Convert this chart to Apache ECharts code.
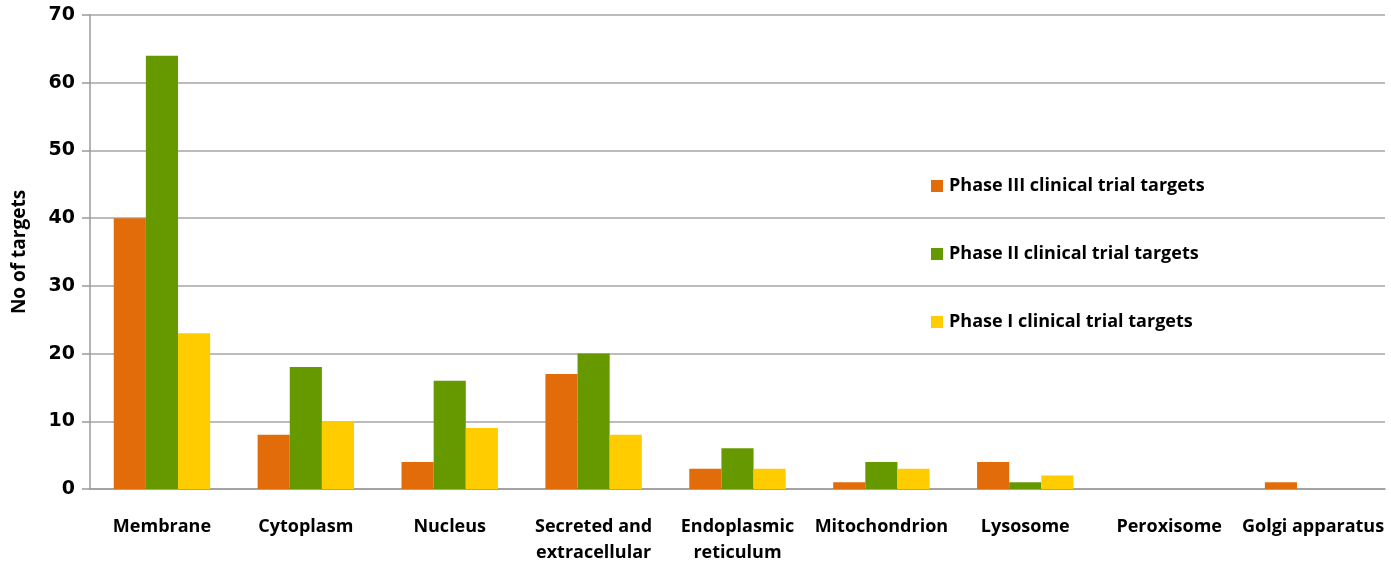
<!DOCTYPE html>
<html>
<head>
<meta charset="utf-8">
<script src="https://cdn.jsdelivr.net/npm/echarts@6/dist/echarts.min.js"></script>
<style>
  html, body { margin: 0; padding: 0; background: #fff; }
  #chart { width: 1391px; height: 565px; }
</style>
</head>
<body>
<div id="chart"></div>
<script>
// Subcellular location of clinical trial targets
const categories = ['Membrane', 'Cytoplasm', 'Nucleus', 'Secreted and\nextracellular', 'Endoplasmic\nreticulum', 'Mitochondrion', 'Lysosome', 'Peroxisome', 'Golgi apparatus'];
const phase3 = [40, 8, 4, 17, 3, 1, 4, 0, 1];
const phase2 = [64, 18, 16, 20, 6, 4, 1, 0, 0];
const phase1 = [23, 10, 9, 8, 3, 3, 2, 0, 0];
const seriesNames = ['Phase III clinical trial targets', 'Phase II clinical trial targets', 'Phase I clinical trial targets'];
const colors = ['#E36C0A', '#669900', '#FFCC00'];

const textFont = '"Open Sans", Lato, sans-serif';
const numberFont = '"DejaVu Sans", sans-serif';
const chart = echarts.init(document.getElementById('chart'));

chart.setOption({
  animation: false,
  color: colors,
  grid: { left: 90, top: 15, right: 6, bottom: 76, containLabel: false, outerBoundsMode: 'none' },
  legend: {
    orient: 'vertical',
    left: 926,
    top: 172,
    itemWidth: 12,
    itemHeight: 12,
    itemGap: 50,
    icon: 'rect',
    textStyle: { fontFamily: textFont, fontWeight: 'bold', fontSize: 18, color: '#000', padding: [0, 0, 0, 1] },
    data: seriesNames
  },
  xAxis: {
    type: 'category',
    data: categories,
    axisLine: { show: true, lineStyle: { color: '#9A9A9A', width: 1.5 } },
    axisTick: { show: false },
    axisLabel: {
      interval: 0,
      margin: 25,
      fontFamily: textFont, fontWeight: 'bold', fontSize: 18, color: '#000', lineHeight: 26
    }
  },
  yAxis: {
    type: 'value',
    min: 0,
    max: 70,
    interval: 10,
    name: 'No of targets',
    nameLocation: 'middle',
    nameGap: 61,
    nameTextStyle: { fontFamily: textFont, fontWeight: 'bold', fontSize: 19, color: '#000' },
    axisLine: { show: true, lineStyle: { color: '#9A9A9A', width: 1.5 } },
    axisTick: { show: true, length: 8, lineStyle: { color: '#9A9A9A', width: 1.5 } },
    splitLine: { show: true, lineStyle: { color: '#A6A6A6', width: 1.5 } },
    axisLabel: { margin: 15, fontFamily: numberFont, fontWeight: 'bold', fontSize: 19, color: '#000' }
  },
  series: [
    { name: seriesNames[0], type: 'bar', data: phase3, barGap: '0%', barCategoryGap: '33%' },
    { name: seriesNames[1], type: 'bar', data: phase2, barGap: '0%', barCategoryGap: '33%' },
    { name: seriesNames[2], type: 'bar', data: phase1, barGap: '0%', barCategoryGap: '33%' }
  ]
});
</script>
</body>
</html>
